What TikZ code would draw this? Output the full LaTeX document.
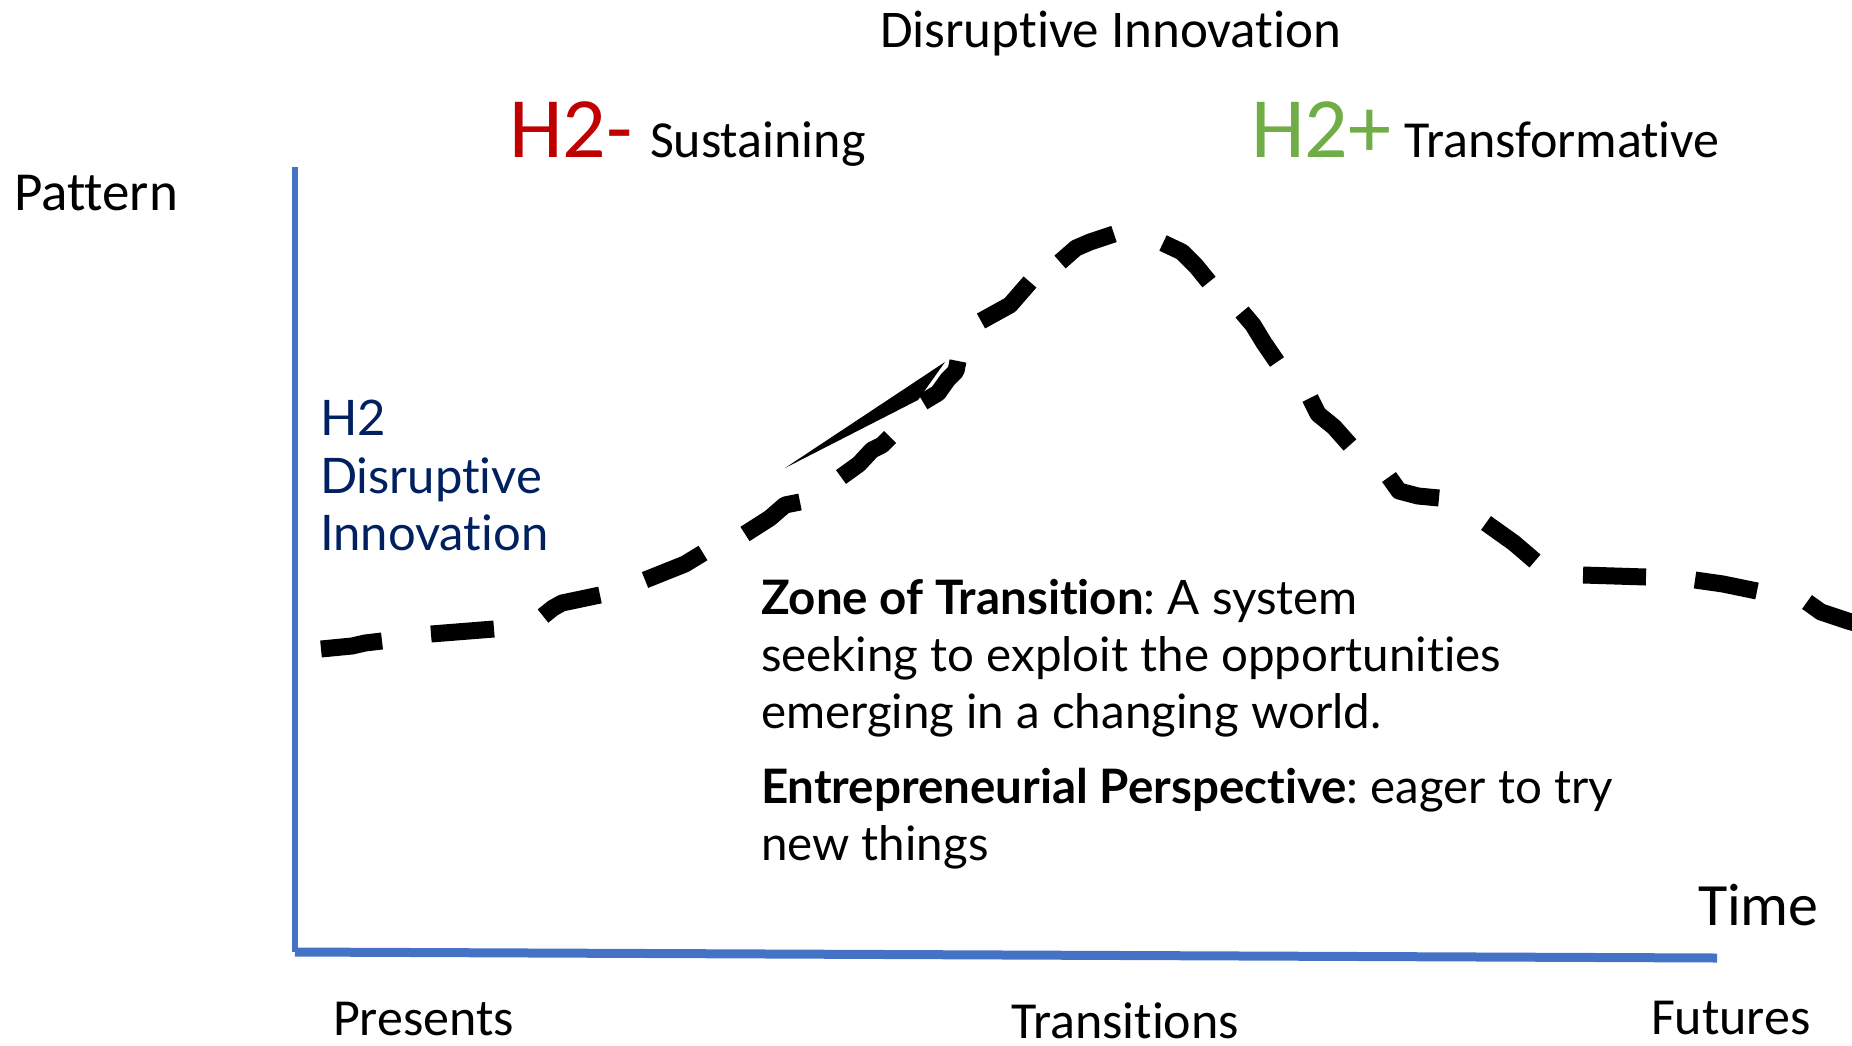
\documentclass[tikz,border=0pt]{standalone}
\usepackage{fontspec}
\setmainfont{Carlito}[Ligatures=NoCommon]
\newfontfamily\latofont{Lato}[Ligatures=NoCommon]
\definecolor{h2red}{HTML}{C00000}
\definecolor{h2green}{HTML}{70AD47}
\definecolor{axisblue}{HTML}{4472C4}
\definecolor{darkblue}{HTML}{002060}
\newcommand\myfs[1]{\fontsize{#1}{#1}\selectfont}
\frenchspacing
\begin{document}
\begin{tikzpicture}[x=1pt,y=-1pt,
  lbl/.style={anchor=base west, inner sep=0pt, outer sep=0pt},
  curvedash/.style={line width=17pt, line join=round, line cap=butt, black},
  axisline/.style={draw=axisblue}]
\useasboundingbox (0,0) rectangle (1852,1045);
% axes
\coordinate (top) at (295,167);
\coordinate (origin) at (295,952);
\coordinate (xend) at (1717,958);
\draw[axisline, line width=6pt] (top) -- (origin);
\draw[axisline, line width=9pt] (origin) -- (xend);
% titles
\node[lbl, font=\myfs{53}] (title) at (880,47) {Disruptive Innovation};
\node[lbl, font=\myfs{86}, text=h2red] (h2m) at (509,157) {H2-};
\node[lbl, font=\myfs{52}] (sus) at (650,157) {Sustaining};
\node[lbl, font=\myfs{86}, text=h2green] (h2p) at (1251,157) {H2+};
\node[lbl, font=\myfs{52}] (trf) at (1404,157) {Transformative};
\node[lbl, font=\myfs{55}] (pat) at (14,210) {Pattern};
% blue label
\node[lbl, font=\latofont\myfs{49}, text=darkblue] (b1) at (320,435) {H2};
\node[lbl, font=\latofont\myfs{49}, text=darkblue] (b2) at (320,493) {Disruptive};
\node[lbl, font=\latofont\myfs{49}, text=darkblue] (b3) at (320,550) {Innovation};
% zone text
\node[lbl, font=\latofont\myfs{47.5}] (z1) at (761,614) {\textbf{Zone of Transition}: A system};
\node[lbl, font=\latofont\myfs{47.5}] (z2) at (761,671) {seeking to exploit the opportunities};
\node[lbl, font=\latofont\myfs{47.5}] (z3) at (761,728) {emerging in a changing world.};
\node[lbl, font=\latofont\myfs{47.5}] (z4) at (761,803) {\textbf{Entrepreneurial Perspective}: eager to try};
\node[lbl, font=\latofont\myfs{47.5}] (z5) at (761,860) {new things};
% axis labels
\node[lbl, font=\myfs{60}] (time) at (1698,925) {Time};
\node[lbl, font=\myfs{52}] (pres) at (333,1035) {Presents};
\node[lbl, font=\myfs{52}] (trans) at (1011,1038) {Transitions};
\node[lbl, font=\myfs{52}] (fut) at (1651,1034) {Futures};
% dashed curve
\draw[curvedash] (321,649) -- (352,646) -- (365,643) -- (382,641);
\draw[curvedash] (431,634) -- (494,629);
\draw[curvedash] (543,616) -- (553,608) -- (562,603) -- (600,595);
\draw[curvedash] (645,580) -- (685,564) -- (703,553);
\draw[curvedash] (745,534) -- (770,518) -- (785,505) -- (800,502);
\draw[curvedash] (841,477) -- (859,464) -- (872,450) -- (882,445) -- (890,437);
\fill[black] (785,468) -- (945,362) -- (918,400) -- cycle;
\draw[curvedash] (923,402) -- (938,393) -- (948,379) -- (956,371) -- (958,361);
\draw[curvedash] (981,321) -- (1010,305) -- (1030,282);
\draw[curvedash] (1060,262) -- (1076,248) -- (1090,242) -- (1114,234);
\draw[curvedash] (1163,243) -- (1182,252) -- (1196,266) -- (1209,282);
\draw[curvedash] (1242,312) -- (1253,325) -- (1264,343) -- (1277,362);
\draw[curvedash] (1310,398) -- (1318,414) -- (1334,427) -- (1350,445);
\draw[curvedash] (1389,477) -- (1399,491) -- (1418,496) -- (1439,498);
\draw[curvedash] (1486,523) -- (1514,543) -- (1535,561);
\draw[curvedash] (1583,575) -- (1646,577);
\draw[curvedash] (1695,580) -- (1723,584) -- (1757,591);
\draw[curvedash] (1807,602) -- (1821,612) -- (1848,621) -- (1862,625);
\end{tikzpicture}
\end{document}
